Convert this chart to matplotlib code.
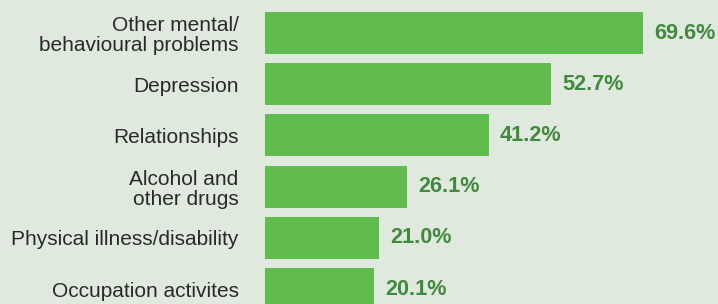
import numpy as np
import matplotlib.pyplot as plt

categories = ['Other mental/\nbehavioural problems', 'Depression', 'Relationships',
              'Alcohol and\nother drugs', 'Physical illness/disability', 'Occupation activites']
values = [69.6, 52.7, 41.2, 26.1, 21.0, 20.1]
value_labels = ['69.6%', '52.7%', '41.2%', '26.1%', '21.0%', '20.1%']

bg = '#dfe9de'
bar_color = '#5fbc4d'
value_color = '#418a3d'
text_color = '#2a2a2a'

plt.rcParams['font.family'] = ['Liberation Sans', 'DejaVu Sans']

fig = plt.figure(figsize=(7.18, 3.04), dpi=100, facecolor=bg)
ax = fig.add_axes([265/718, 0, 1 - 265/718, 1])
ax.set_facecolor(bg)

y = np.arange(len(categories))
ax.barh(y, values, height=0.82, color=bar_color)
for yi, v, lab in zip(y, values, value_labels):
    ax.annotate(lab, (v, yi), xytext=(8, 0), textcoords='offset points',
                va='center', ha='left', fontsize=15.6, fontweight='bold', color=value_color)

ax.set_xlim(0, 83.4)
ax.set_ylim(5.29, -0.645)
ax.set_yticks(y)
ax.set_yticklabels(categories, fontsize=15, color=text_color, linespacing=1.08)
ax.tick_params(axis='y', length=0, pad=19)
ax.set_xticks([])
for s in ax.spines.values():
    s.set_visible(False)

plt.savefig('out.png', dpi=100, facecolor=bg)
plt.close()
